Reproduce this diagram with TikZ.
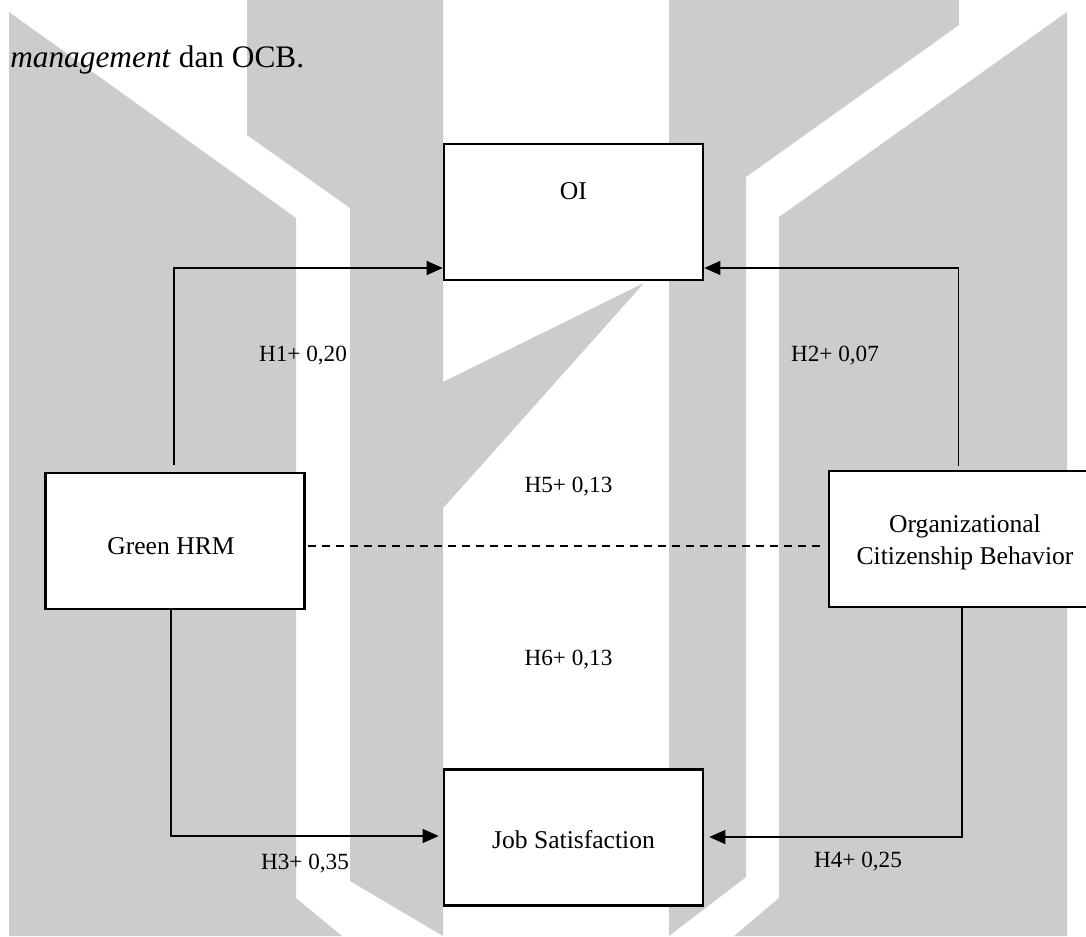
\documentclass[tikz,border=0pt]{standalone}
\usepackage{fontspec}
\setmainfont{Liberation Serif}
\usetikzlibrary{arrows.meta}
\newdimen\pxu \pxu=0.75pt
\begin{document}
\begin{tikzpicture}[x=0.75pt,y=-0.75pt,
  wm/.style={fill=black!20, draw=none},
  box/.style={draw, line width=2pt, fill=white, minimum width=259\pxu, minimum height=136\pxu, inner sep=0pt},
  txt/.style={font=\fontsize{19.2}{24}\selectfont, inner sep=0pt, align=center},
  lbl/.style={font=\fontsize{17.4}{21}\selectfont, inner sep=0pt},
  conn/.style={line width=1pt},
  arr/.style={conn, -{Triangle[length=12pt,width=10.5pt]}},
  dashedlink/.style={line width=1.4pt, dash pattern=on 6pt off 4.5pt}]
\fill[white] (0,0) rectangle (1086,936);
\useasboundingbox (0,0) rectangle (1086,936);
% watermark
\fill[wm] (9,12) -- (296,218) -- (296,898) -- (342,936) -- (9,936) -- cycle;
\fill[wm] (247,0) -- (443,0) -- (443,382) -- (644,283) -- (479,468) -- (443,508) -- (443,936) -- (350,881) -- (350,208) -- (247,135) -- cycle;
\fill[wm] (669,0) -- (959,0) -- (959,25) -- (746,177) -- (746,877) -- (669,936) -- cycle;
\fill[wm] (779,217) -- (1067,12) -- (1067,936) -- (734,936) -- (779,898) -- cycle;
% intro text
\node[anchor=base west, font=\fontsize{23.5}{28}\selectfont, inner sep=0pt] (intro) at (10,67) {\textit{management} dan OCB.};
% boxes
\node[box] (oi) at (573.5,212) {};
\node[txt] (oit) at (573.5,191) {OI};
\node[box] (ghrm) at (175,541) {};
\node[txt] (ghrmt) at (171,546) {Green HRM};
\node[box] (ocb) at (958.5,539) {};
\node[txt] (ocbt) at (965,542) {Organizational\\Citizenship Behavior};
\node[box] (js) at (573.5,837.5) {};
\node[txt] (jst) at (573.5,840) {Job Satisfaction};
% helper coordinates
\coordinate (k1) at (0,268);
\coordinate (k3) at (0,836);
\coordinate (k4) at (0,837);
\coordinate (k5) at (0,546);
% connectors
\draw[arr] ([xshift=-0.75pt,yshift=5.25pt]ghrm.north) |- (oi.west |- k1);
\draw[arr] ([yshift=3pt]ocb.north) |- (oi.east |- k1);
\draw[arr] ([xshift=-3pt]ghrm.south) |- ([xshift=-3pt]js.west |- k3);
\draw[arr] ([xshift=2.6pt]ocb.south) |- ([xshift=3.75pt]js.east |- k4);
\draw[dashedlink] ([xshift=1.5pt]ghrm.east |- k5) -- ([xshift=-5pt]ocb.west |- k5);
% labels
\node[lbl] (h1) at (303,356) {H1+ 0,20};
\node[lbl] (h2) at (835,356) {H2+ 0,07};
\node[lbl] (h5) at (568.5,487) {H5+ 0,13};
\node[lbl] (h6) at (568.5,660) {H6+ 0,13};
\node[lbl] (h3) at (305,864) {H3+ 0,35};
\node[lbl] (h4) at (858,862) {H4+ 0,25};
\end{tikzpicture}
\end{document}
